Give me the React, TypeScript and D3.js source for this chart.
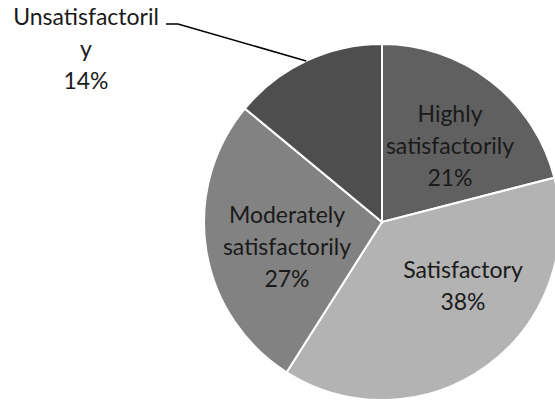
import React from "react";
import * as d3 from "d3";

const categories = ["Highly satisfactorily", "Satisfactory", "Moderately satisfactorily", "Unsatisfactorily"];
const shares = [21, 38, 27, 14];
const labelLines = [
  ["Highly", "satisfactorily", "21%"],
  ["Satisfactory", "38%"],
  ["Moderately", "satisfactorily", "27%"],
  ["Unsatisfactoril", "y", "14%"],
];
const colors = ["#606060", "#b3b3b3", "#828282", "#4e4e4e"];

const W = 555;
const H = 406;
const cx = 382;
const cy = 222;
const R = 178;
const lineH = 32;
// label anchors (centre x, first baseline) relative to pie centre
const labelAt: [number, number][] = [
  [68, -100],
  [81, 56],
  [-95, 1],
  [-296, -197],
];

const App: React.FC = () => {
  const pie = d3.pie<number>().sort(null).value(d => d);
  const arcs = pie(shares);
  const arc = d3.arc<d3.PieArcDatum<number>>().innerRadius(0).outerRadius(R);

  const u = arcs[3];
  const mid = (u.startAngle + u.endAngle) / 2;
  const edge: [number, number] = [cx + R * Math.sin(mid), cy - R * Math.cos(mid)];
  const leader = d3.line()([[166, 24], [178, 24], edge]) || "";

  return (
    <svg width={W} height={H} style={{ position: "absolute", left: 0, top: 0, background: "#fff" }}
      fontFamily="Lato, 'Open Sans', sans-serif" fontSize={23}>
      <g transform={`translate(${cx},${cy})`}>
        {arcs.map((a, i) => (
          <path key={categories[i]} d={arc(a) || ""} fill={colors[i]} stroke="#fff" strokeWidth={2} />
        ))}
        {labelLines.map((lines, i) => (
          <text key={i} textAnchor="middle" fill="#1a1a1a">
            {lines.map((t, j) => (
              <tspan key={j} x={labelAt[i][0]} y={labelAt[i][1] + j * lineH}>{t}</tspan>
            ))}
          </text>
        ))}
      </g>
      <path d={leader} fill="none" stroke="#000" strokeWidth={1.5} />
    </svg>
  );
};

export default App;
